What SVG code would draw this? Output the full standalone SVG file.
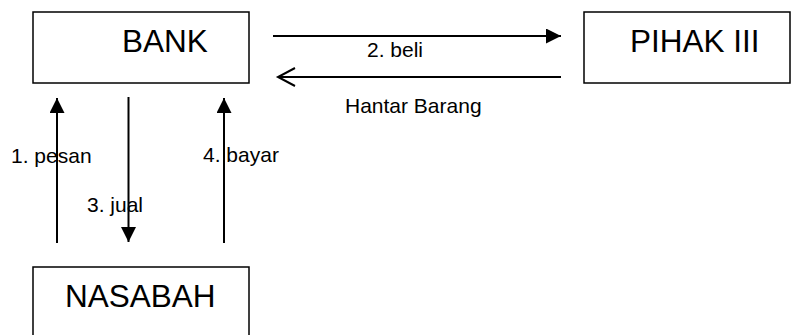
<svg xmlns="http://www.w3.org/2000/svg" width="791" height="335" viewBox="0 0 791 335">
<style>
.box{fill:#fff;stroke:#000;stroke-width:1.5}
.big{font-family:"Liberation Sans",Arial,sans-serif;font-size:31.5px;fill:#000}
.lbl{font-family:"Liberation Sans",Arial,sans-serif;font-size:21px;fill:#000}
.ln{stroke:#000;stroke-width:2;fill:none}
</style>
<defs>
<marker id="tri" viewBox="0 0 15 15" refX="15" refY="7.5" markerWidth="15" markerHeight="15" markerUnits="userSpaceOnUse" orient="auto">
<path d="M0,0 L15,7.5 L0,15 Z" fill="#000"/>
</marker>
</defs>
<rect width="791" height="335" fill="#fff"/>
<g id="bank"><rect class="box" x="33" y="12" width="216" height="71"/><text class="big" x="122" y="52">BANK</text></g>
<g id="pihak"><rect class="box" x="584" y="12" width="206" height="71"/><text class="big" x="630" y="52">PIHAK III</text></g>
<g id="nasabah"><rect class="box" x="33" y="267" width="216" height="90"/><text class="big" x="65" y="307">NASABAH</text></g>
<g id="connectors">
<line class="ln" x1="273" y1="36" x2="561" y2="36" marker-end="url(#tri)"/>
<line class="ln" x1="561" y1="77" x2="278" y2="77"/>
<path class="ln" d="M295,68 L278,77 L295,86" stroke-width="1.5"/>
<line class="ln" x1="57" y1="243" x2="57" y2="98" marker-end="url(#tri)"/>
<line class="ln" x1="128.5" y1="97" x2="128.5" y2="242" marker-end="url(#tri)"/>
<line class="ln" x1="224" y1="243" x2="224" y2="98" marker-end="url(#tri)"/>
</g>
<g id="labels">
<text class="lbl" x="367" y="57">2. beli</text>
<text class="lbl" x="345" y="113">Hantar Barang</text>
<text class="lbl" x="11" y="163">1. pesan</text>
<text class="lbl" x="87" y="212">3. jual</text>
<text class="lbl" x="203" y="162">4. bayar</text>
</g>
</svg>
